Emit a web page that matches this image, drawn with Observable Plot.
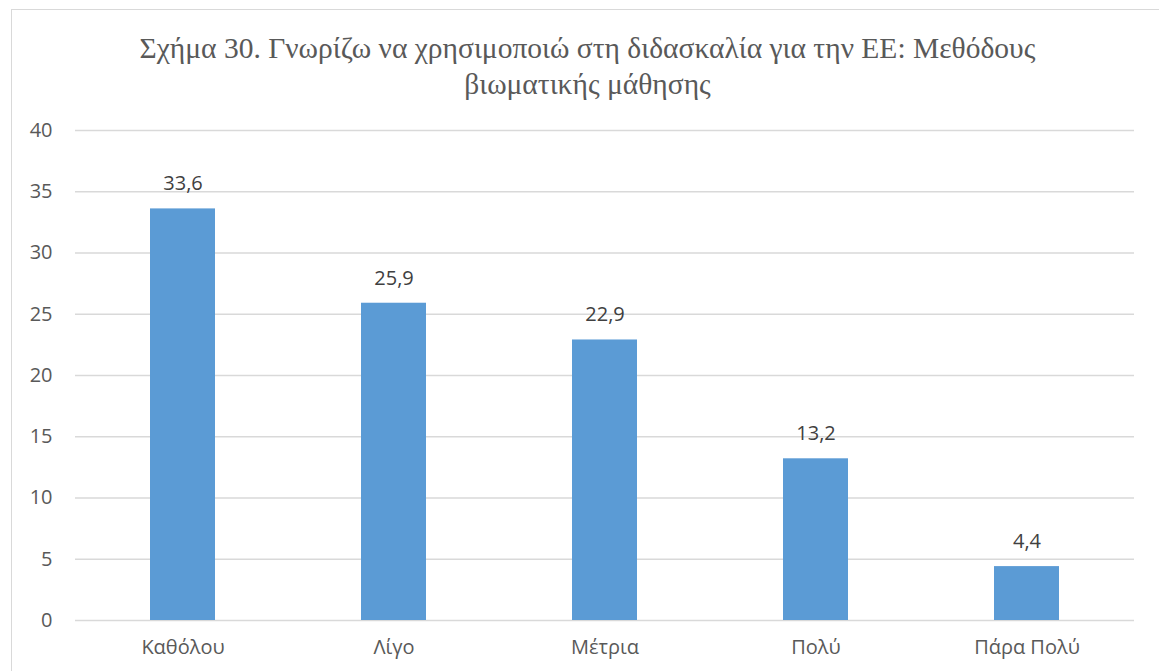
<!DOCTYPE html>
<html>
<head>
<meta charset="utf-8">
<script src="https://cdn.jsdelivr.net/npm/d3@7"></script>
<script src="https://cdn.jsdelivr.net/npm/@observablehq/plot@0.6"></script>
<style>
  html, body { margin: 0; padding: 0; background: #fff; overflow: hidden; }
  #page { position: relative; width: 1159px; height: 671px; }
  #frame { position: absolute; left: 11px; top: 9px; width: 1170px; height: 700px; border: 1.5px solid #d9d9d9; box-sizing: border-box; pointer-events: none; }
  #title { position: absolute; left: 0; top: 30px; width: 1175px; text-align: center; font-family: "Liberation Serif", "DejaVu Serif", serif; font-size: 29.5px; line-height: 36px; color: #595959; }
  #chart { position: absolute; left: 0; top: 100px; }
</style>
</head>
<body>
<div id="page">
  <div id="frame"></div>
  <div id="title">Σχήμα 30. Γνωρίζω να χρησιμοποιώ στη διδασκαλία για την ΕΕ: Μεθόδους<br>βιωματικής μάθησης</div>
  <div id="chart"></div>
</div>
<script>
const categories = ["Καθόλου", "Λίγο", "Μέτρια", "Πολύ", "Πάρα Πολύ"];
const values = [33.6, 25.9, 22.9, 13.2, 4.4];
const yTicks = [0, 5, 10, 15, 20, 25, 30, 35, 40];

const data = categories.map((c, i) => ({category: c, value: values[i]}));
const fmt = v => v.toFixed(1).replace(".", ",");

const chart = Plot.plot({
  width: 1159,
  height: 571,
  marginLeft: 75,
  marginRight: 25,
  marginTop: 30,
  marginBottom: 51,
  style: {fontFamily: "'Open Sans', sans-serif", fontSize: "20px", color: "#595959", background: "transparent"},
  x: {domain: categories, paddingInner: 0.69, paddingOuter: 0.345, label: null},
  y: {domain: [0, 40], ticks: yTicks, label: null},
  marks: [
    Plot.gridY(yTicks, {stroke: "#d9d9d9", strokeOpacity: 1, strokeWidth: 1.5}),
    Plot.barY(data, {x: "category", y: "value", fill: "#5B9BD5"}),
    Plot.text(data, {x: "category", y: "value", text: d => fmt(d.value), dy: -25, fill: "#404040", fontSize: 20}),
    Plot.axisY(yTicks, {tickSize: 0, tickPadding: 23, fontSize: 20, fill: "#595959"}),
    Plot.axisX({tickSize: 0, tickPadding: 19, fontSize: 20, fill: "#595959"})
  ]
});
document.getElementById("chart").appendChild(chart);
</script>
</body>
</html>
